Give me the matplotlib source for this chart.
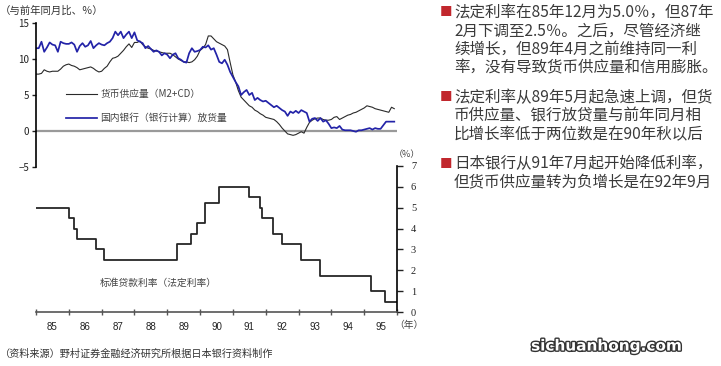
"""Japan: money supply / bank lending growth vs. official lending rate, 1985-95."""

import matplotlib.pyplot as plt
import matplotlib.patheffects as pe
import numpy as np

plt.rcParams["font.family"] = ["Noto Sans CJK SC", "DejaVu Sans"]

# monthly, Jan 1985 .. Dec 1995, year-on-year %
m2cd = [
    7.9, 7.9, 8.0, 8.5, 8.3, 8.2, 8.3, 8.3, 8.3, 8.6, 9.0, 9.2,
    9.3, 9.1, 9.0, 8.8, 8.5, 8.6, 8.7, 8.8, 8.9, 8.7, 8.4, 8.2,
    8.3, 8.7, 9.0, 9.6, 10.1, 10.2, 10.4, 10.8, 11.2, 11.7, 12.1, 11.6,
    12.3, 12.3, 12.5, 12.0, 11.7, 11.5, 11.4, 11.2, 11.1, 11.0, 10.9, 10.8,
    10.8, 10.8, 10.6, 10.3, 10.0, 9.8, 9.6, 9.6, 9.5, 9.6, 9.9, 10.4,
    11.2, 11.5, 12.0, 13.2, 13.2, 12.8, 12.4, 12.2, 12.0, 11.8, 11.3, 9.5,
    7.8, 6.8, 5.6, 4.7, 4.3, 3.9, 3.5, 3.3, 2.9, 2.7, 2.4, 2.2,
    1.9, 1.8, 1.7, 1.6, 1.3, 0.9, 0.4, 0.0, -0.4, -0.5, -0.6, -0.5,
    -0.3, -0.1, -0.3, 0.5, 1.2, 1.5, 1.7, 1.8, 1.8, 1.6, 1.5, 1.5,
    1.6, 1.9, 2.0, 1.6, 1.8, 2.0, 2.2, 2.3, 2.5, 2.6, 2.8, 3.0,
    3.2, 3.5, 3.4, 3.3, 3.1, 3.0, 2.9, 2.8, 2.7, 2.6, 3.3, 3.1,
]
lending = [
    11.5, 11.5, 12.4, 11.0, 11.6, 12.3, 12.0, 11.9, 11.0, 12.4, 12.2, 12.1,
    12.1, 12.3, 12.0, 11.0, 11.8, 12.2, 11.7, 11.9, 12.5, 11.5, 11.9, 12.2,
    12.0, 11.9, 12.2, 12.4, 12.9, 13.8, 13.3, 13.8, 12.9, 13.4, 13.8, 12.9,
    13.7, 12.6, 12.4, 12.2, 11.5, 11.8, 11.4, 11.0, 11.2, 11.0, 10.5, 10.8,
    10.6, 10.1, 10.6, 10.8, 10.1, 9.9, 9.6, 9.5, 10.8, 11.5, 11.0, 11.1,
    11.25, 11.7, 11.6, 11.9, 11.3, 11.5, 10.6, 9.6, 9.4, 9.9, 9.2, 8.2,
    7.5, 6.8, 6.2, 5.0, 5.4, 5.7, 5.0, 5.3, 4.3, 4.6, 4.3, 4.1,
    4.2, 3.9, 3.6, 3.3, 3.5, 3.2, 2.9, 2.7, 2.1, 2.7, 2.5, 2.8,
    2.5, 2.9, 2.7, 2.5, 1.3, 1.7, 1.8, 1.4, 1.8, 1.3, 1.5, 1.0,
    0.4, 0.5, 0.4, 0.7, 0.2, 0.1, 0.1, 0.1, 0.0, -0.1, 0.1, 0.1,
    0.2, 0.3, 0.4, 0.2, 0.4, 0.3, 0.3, 0.8, 1.3, 1.3, 1.3, 1.3,
]
months = 1985 + np.arange(len(m2cd)) / 12

# official lending rate: change points (decimal year) and level from that point on
rate_x = [1985.0, 1986.0, 1986.16, 1986.25, 1986.83, 1987.07, 1989.3, 1989.73,
          1989.91, 1990.15, 1990.58, 1991.49, 1991.83, 1991.89, 1992.23, 1992.5,
          1993.08, 1993.66, 1995.21, 1995.64, 1996.0]
rate_y = [5.0, 4.5, 4.0, 3.5, 3.0, 2.5, 3.25, 3.75, 4.25, 5.25, 6.0, 5.5, 5.0,
          4.5, 3.75, 3.25, 2.5, 1.75, 1.0, 0.5, 0.5]

years = list(range(1985, 1997))
year_labels = ["85", "86", "87", "88", "89", "90", "91", "92", "93", "94", "95"]

notes = [
    ["法定利率在85年12月为5.0％，但87年", "2月下调至2.5％。之后，尽管经济继",
     "续增长，但89年4月之前维持同一利", "率，没有导致货币供应量和信用膨胀。"],
    ["法定利率从89年5月起急速上调，但货", "币供应量、银行放贷量与前年同月相",
     "比增长率低于两位数是在90年秋以后"],
    ["日本银行从91年7月起开始降低利率，", "但货币供应量转为负增长是在92年9月"],
]

W, H = 721, 366
fig = plt.figure(figsize=(W / 100, H / 100), dpi=100)


def fx(px):
    return px / W


def fy(py):
    return 1 - py / H


text_c = "#3a3a3a"

# ---- top panel: growth rates
ax = fig.add_axes([fx(36), fy(167), fx(361), 144 / H])
ax.set_xlim(1985, 1996)
ax.set_ylim(-5, 15)
ax.axhline(0, color="#9a9a9a", lw=1.6, zorder=1)
ax.plot(months, m2cd, color="#2a2a2a", lw=0.8, label="货币供应量（M2+CD）")
ax.plot(months, lending, color="#2323a8", lw=1.25, label="国内银行（银行计算）放货量")
for s in ["top", "right", "bottom"]:
    ax.spines[s].set_visible(False)
ax.spines["left"].set_linewidth(1.2)
ax.set_xticks([])
ax.set_yticks([-5, 0, 5, 10, 15])
ax.tick_params(axis="y", length=3, width=1, labelsize=7, pad=2, colors="#222")
ax.patch.set_alpha(0)
ax.legend(loc="upper left", bbox_to_anchor=(fx(66), fy(89)), bbox_transform=fig.transFigure,
          frameon=False, fontsize=7, handlelength=3.2, handletextpad=0.35,
          labelspacing=1.45, borderpad=0, borderaxespad=0, labelcolor="#444")

# ---- bottom panel: official lending rate
bx = fig.add_axes([fx(36), fy(312), fx(361), 146 / H])
bx.set_xlim(1985, 1996)
bx.set_ylim(0, 7)
bx.step(rate_x, rate_y, where="post", color="#262626", lw=1.3)
bx.spines["top"].set_visible(False)
bx.spines["left"].set_visible(False)
bx.spines["right"].set_linewidth(1.2)
bx.spines["bottom"].set_linewidth(1.2)
bx.spines["bottom"].set_color("#555")
bx.yaxis.tick_right()
bx.set_yticks(range(0, 8))
bx.tick_params(axis="y", length=4, width=1, labelsize=7.5, pad=6, colors="#222")
for t in bx.get_yticklabels():
    t.set_family("Liberation Serif")
bx.set_xticks(years)
bx.set_xticklabels([])
bx.set_xticks([y + 0.5 for y in years[:-1]], minor=True)
bx.set_xticklabels(year_labels, minor=True, fontsize=7, color="#222")
bx.tick_params(axis="x", which="major", length=4, width=1, direction="inout", color="#555")
bx.tick_params(axis="x", which="minor", length=0, pad=7)
for t in bx.get_xticklabels(minor=True):
    t.set_family("Liberation Sans")
bx.patch.set_alpha(0)
bx.text(fx(100), fy(283), "标准贷款利率（法定利率）", transform=fig.transFigure,
        fontsize=7, color="#444", va="center")

fig.text(fx(407), fy(155), "（%）", fontsize=6.5, color="#444", ha="center", va="center")
fig.text(fx(409), fy(325), "（年）", fontsize=7, color="#444", ha="center", va="center")
fig.text(fx(0), fy(11), "（与前年同月比、％）", fontsize=7.5, color="#333", va="center")
fig.text(fx(0), fy(354), "（资料来源）野村证券金融经济研究所根据日本银行资料制作",
         fontsize=7.3, color="#333", va="center")

# ---- right column notes
line_y = [[13, 31, 49, 67.5], [97.5, 116, 134.5], [164, 182.5]]
for para, ys in zip(notes, line_y):
    fig.text(fx(440), fy(ys[0]), "■", fontsize=9, color="#c1272d", va="center")
    for line, y in zip(para, ys):
        fig.text(fx(454), fy(y), line, fontsize=11.2, color=text_c, va="center")

fig.text(fx(606), fy(346), "sichuanhong.com", fontsize=11, fontweight="bold",
         family="DejaVu Sans", color="white", ha="center", va="center",
         path_effects=[pe.withStroke(linewidth=2, foreground="#333")])

fig.savefig("out.png", dpi=100)
